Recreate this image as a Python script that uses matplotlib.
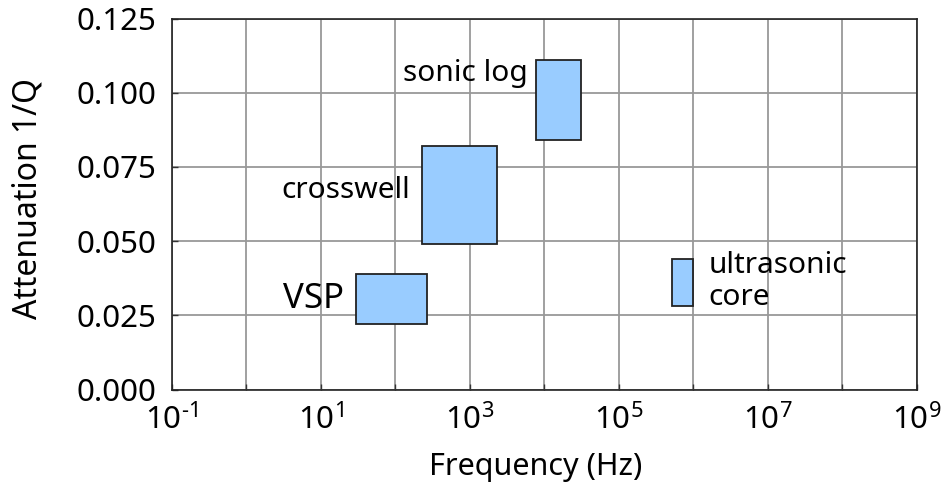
import math
import matplotlib
matplotlib.use("Agg")
import matplotlib.pyplot as plt
from matplotlib.patches import Rectangle
from matplotlib.ticker import FixedLocator, FuncFormatter

plt.rcParams['font.family'] = ['Noto Sans', 'DejaVu Sans']
plt.rcParams['mathtext.fontset'] = 'custom'
plt.rcParams['mathtext.rm'] = 'Noto Sans'
plt.rcParams['mathtext.it'] = 'Noto Sans'

# frequency band (Hz) and attenuation range for each measurement method
methods = ['VSP', 'crosswell', 'sonic log', 'ultrasonic\ncore']
f_low = [30, 230, 7800, 5.1e5]
f_high = [270, 2300, 31000, 1.0e6]
q_low = [0.022, 0.049, 0.084, 0.028]
q_high = [0.039, 0.082, 0.111, 0.044]

fig = plt.figure(figsize=(9.46, 4.84), dpi=100)
ax = fig.add_axes([0.1813, 0.1952, 0.788, 0.7665])

for name, f0, f1, q0, q1 in zip(methods, f_low, f_high, q_low, q_high):
    ax.add_patch(Rectangle((f0, q0), f1 - f0, q1 - q0, facecolor='#99ccff',
                           edgecolor='#222222', linewidth=1.3, zorder=3))

# method labels beside their boxes
fs = 21.5
ax.text(f_low[0] / 1.45, (q_low[0] + q_high[0]) / 2, methods[0], ha='right', va='center', fontsize=25)
ax.text(f_low[1] / 1.45, (q_low[1] + q_high[1]) / 2 + 0.0015, methods[1], ha='right', va='center', fontsize=fs)
ax.text(f_low[2] / 1.3, q_high[2] - 0.0045, methods[2], ha='right', va='center', fontsize=fs)
ax.text(f_high[3] * 1.6, (q_low[3] + q_high[3]) / 2 + 0.0005, methods[3], ha='left', va='center',
        fontsize=fs, linespacing=1.12)


def decade_label(v, pos):
    k = round(math.log10(v))
    if k % 2 == 0:
        return ''
    exp = str(k).replace('-', '\u2010')
    return r'$10^{%s}$' % exp


ax.set_xscale('log')
ax.set_xlim(1e-1, 1e9)
ax.set_ylim(0, 0.125)
ax.xaxis.set_major_locator(FixedLocator([10.0 ** k for k in range(-1, 10)]))
ax.xaxis.set_minor_locator(FixedLocator([]))
ax.xaxis.set_major_formatter(FuncFormatter(decade_label))
ax.set_yticks([0, 0.025, 0.05, 0.075, 0.1, 0.125])
ax.yaxis.set_major_formatter(FuncFormatter(lambda v, pos: '%.3f' % v))

ax.grid(True, color='#999999', linewidth=1.3)
ax.set_axisbelow(True)
ax.tick_params(direction='in', length=4, width=1, color='#333333', labelsize=22.5)
ax.tick_params(axis='y', pad=11)
ax.tick_params(axis='x', pad=10)
for s in ax.spines.values():
    s.set_color('#222222')
    s.set_linewidth(1.2)

ax.set_xlabel('Frequency (Hz)', fontsize=22, va='center')
ax.xaxis.set_label_coords(0.489, -0.21)
ax.set_ylabel('Attenuation 1/Q', fontsize=23, va='center')
ax.yaxis.set_label_coords(-0.192, 0.516)

fig.savefig('out.png', dpi=100)
